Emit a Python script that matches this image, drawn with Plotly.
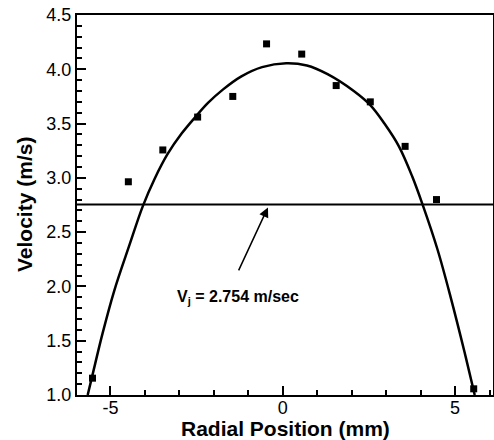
import plotly.graph_objects as go

# Measured data points
radial_mm = [-5.52, -4.48, -3.48, -2.47, -1.45, -0.47, 0.55, 1.55, 2.54, 3.55, 4.46, 5.54]
velocity = [1.155, 2.964, 3.257, 3.56, 3.75, 4.234, 4.14, 3.85, 3.70, 3.29, 2.80, 1.057]

# Fitted profile curve
fit_x = [-5.66, -5.52, -5.23, -4.89, -4.45, -4.06, -3.72, -3.34, -2.93, -2.51, -2.17, -1.73,
         -1.2, -0.6, 0.1, 0.7, 1.3, 2.06, 2.54, 2.95, 3.37, 3.76, 4.05, 4.49, 4.88, 5.27, 5.51, 5.57]
fit_y = [1.0, 1.185, 1.565, 1.96, 2.38, 2.74, 2.99, 3.22, 3.41, 3.57, 3.69, 3.815,
         3.935, 4.02, 4.056, 4.035, 3.955, 3.80, 3.67, 3.50, 3.29, 3.01, 2.76, 2.34, 1.89, 1.40, 1.08, 1.0]

# Mean jet velocity
VJ = 2.754

x_range = [-5.97, 6.1]
y_range = [1.0, 4.5]
x_ticks = [-5, 0, 5]
y_ticks = [1.0, 1.5, 2.0, 2.5, 3.0, 3.5, 4.0, 4.5]
y_ticklabels = ["1.0", "1.5", "2.0", "2.5", "3.0", "3.5", "4.0", "4.5"]

FONT = "Liberation Sans, Arial, sans-serif"
L, R, T, B = 77, 1, 15, 45

fig = go.Figure()
fig.add_trace(go.Scatter(x=fit_x, y=fit_y, mode="lines",
                         line=dict(color="black", width=2.5, shape="spline", smoothing=1.0),
                         showlegend=False, hoverinfo="skip"))
fig.add_trace(go.Scatter(x=radial_mm, y=velocity, mode="markers",
                         marker=dict(symbol="square", size=7, color="black"),
                         cliponaxis=False, showlegend=False))
fig.add_hline(y=VJ, line=dict(color="black", width=2))

fig.add_annotation(x=-0.43, y=2.728, ax=-1.30, ay=2.134, xref="x", yref="y", axref="x", ayref="y",
                   showarrow=True, arrowhead=2, arrowsize=1.3, arrowwidth=1.5, arrowcolor="black", text="")
fig.add_annotation(x=-3.125, y=1.90, xref="x", yref="y", xanchor="left", yanchor="middle", showarrow=False,
                   text=f"<b>V<sub>j</sub> = {VJ} m/sec</b>", font=dict(family=FONT, size=16, color="black"))

# Axis titles
fig.add_annotation(x=0.5, y=0, xref="paper", yref="paper", xanchor="center", yanchor="top", yshift=-20,
                   showarrow=False, text="<b>Radial Position (mm)</b>",
                   font=dict(family=FONT, size=21, color="black"))
fig.add_annotation(x=0, y=0.5, xref="paper", yref="paper", xanchor="center", yanchor="middle", xshift=-53,
                   textangle=-90, showarrow=False, text="<b>Velocity (m/s)</b>",
                   font=dict(family=FONT, size=21, color="black"))

axis_common = dict(showline=True, linecolor="black", linewidth=2, mirror=True, showgrid=False, zeroline=False,
                   ticks="inside", tickcolor="black", tickwidth=2, ticklen=9, automargin=False,
                   tickfont=dict(family=FONT, size=18, color="black"))

fig.update_xaxes(range=x_range, tickmode="array", tickvals=x_ticks, ticktext=[str(v) for v in x_ticks],
                 minor=dict(ticks="inside", dtick=1, tick0=0, ticklen=5, tickwidth=1.5, tickcolor="black"),
                 ticklabelstandoff=-5,
                 **axis_common)
fig.update_yaxes(range=y_range, tickmode="array", tickvals=y_ticks, ticktext=y_ticklabels,
                 minor=dict(ticks="inside", dtick=0.1, tick0=1.0, ticklen=5, tickwidth=1.5, tickcolor="black"),
                 **axis_common)

fig.update_layout(width=494, height=440, margin=dict(l=L, r=R, t=T, b=B, autoexpand=False),
                  plot_bgcolor="white", paper_bgcolor="white")

fig.write_html("out.html", config={"displayModeBar": False},
               post_script="document.body.style.margin='0';document.body.style.overflow='hidden';")
